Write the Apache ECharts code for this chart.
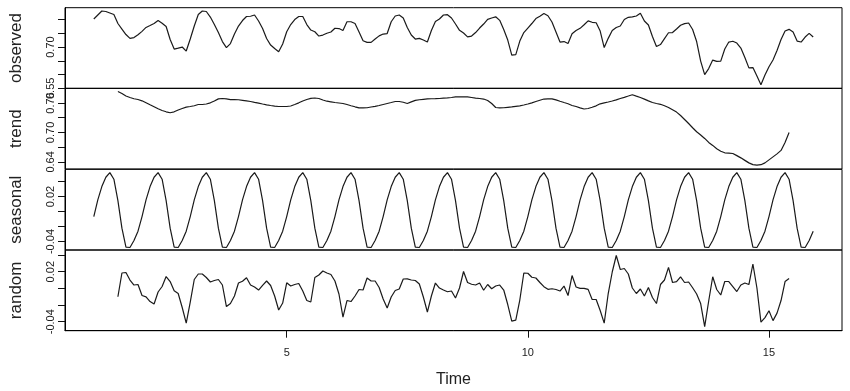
<!DOCTYPE html>
<html>
<head>
<meta charset="utf-8">
<script src="https://cdn.jsdelivr.net/npm/echarts@6/dist/echarts.min.js"></script>
<style>
html,body{margin:0;padding:0;background:#fff;}
#chart{width:850px;height:391px;}
</style>
</head>
<body>
<div id="chart"></div>
<script>
// Time series: monthly (frequency 12), starting at time 1
const startTime = 1;
const frequency = 12;
const trendOffset = 6; // trend/random start 6 months in

const observed = [
  0.8019, 0.8164, 0.8310, 0.8292, 0.8237, 0.8182, 0.7855, 0.7655, 0.7455, 0.7316, 0.7345, 0.7447,
  0.7571, 0.7713, 0.7782, 0.7855, 0.7964, 0.7866, 0.7746, 0.7273, 0.6927, 0.6963, 0.7000, 0.6854,
  0.7291, 0.7764, 0.8182, 0.8310, 0.8292, 0.8091, 0.7818, 0.7527, 0.7200, 0.6981, 0.7127, 0.7473,
  0.7764, 0.7964, 0.8110, 0.8120, 0.8164, 0.7946, 0.7673, 0.7309, 0.7072, 0.6945, 0.6829, 0.7109,
  0.7556, 0.7818, 0.8000, 0.8110, 0.8110, 0.7818, 0.7618, 0.7556, 0.7400, 0.7436, 0.7502, 0.7546,
  0.7684, 0.7673, 0.7600, 0.7920, 0.7920, 0.7855, 0.7546, 0.7229, 0.7171, 0.7171, 0.7291, 0.7407,
  0.7473, 0.7491, 0.7920, 0.8128, 0.8164, 0.8055, 0.7709, 0.7436, 0.7291, 0.7316, 0.7254, 0.7182,
  0.7600, 0.7928, 0.8019, 0.8164, 0.8175, 0.8055, 0.7837, 0.7607, 0.7509, 0.7371, 0.7400, 0.7527,
  0.7691, 0.7837, 0.8008, 0.8055, 0.8099, 0.7971, 0.7637, 0.7254, 0.6709, 0.6727, 0.7218, 0.7527,
  0.7691, 0.7855, 0.8037, 0.8120, 0.8219, 0.8139, 0.7909, 0.7546, 0.7182, 0.7200, 0.7127, 0.7484,
  0.7600, 0.7680, 0.7811, 0.7953, 0.7899, 0.7884, 0.7582, 0.6981, 0.7316, 0.7600, 0.7709, 0.7764,
  0.8000, 0.8080, 0.8099, 0.8128, 0.8226, 0.7946, 0.7800, 0.7382, 0.7018, 0.7091, 0.7309, 0.7520,
  0.7527, 0.7655, 0.7793, 0.7851, 0.7873, 0.7637, 0.7200, 0.6490, 0.5999, 0.6217, 0.6527, 0.6479,
  0.6490, 0.6927, 0.7182, 0.7211, 0.7145, 0.6963, 0.6618, 0.6243, 0.6254, 0.5944, 0.5630, 0.5981,
  0.6283, 0.6527, 0.6872, 0.7273, 0.7582, 0.7644, 0.7546, 0.7218, 0.7182, 0.7364, 0.7498, 0.7364
];

const trend = [
  0.7834, 0.7793, 0.7742, 0.7712, 0.7687, 0.7671, 0.7645, 0.7604, 0.7563, 0.7523, 0.7482, 0.7447,
  0.7421, 0.7401, 0.7421, 0.7458, 0.7488, 0.7517, 0.7529, 0.7545, 0.7570, 0.7570, 0.7580, 0.7604,
  0.7641, 0.7685, 0.7692, 0.7683, 0.7671, 0.7671, 0.7667, 0.7655, 0.7643, 0.7631, 0.7614, 0.7598,
  0.7580, 0.7563, 0.7549, 0.7537, 0.7529, 0.7529, 0.7529, 0.7539, 0.7570, 0.7604, 0.7641, 0.7671,
  0.7696, 0.7702, 0.7692, 0.7661, 0.7637, 0.7624, 0.7610, 0.7600, 0.7590, 0.7570, 0.7545, 0.7523,
  0.7502, 0.7502, 0.7504, 0.7519, 0.7533, 0.7549, 0.7570, 0.7590, 0.7610, 0.7631, 0.7631, 0.7616,
  0.7590, 0.7624, 0.7655, 0.7667, 0.7675, 0.7683, 0.7687, 0.7689, 0.7692, 0.7698, 0.7704, 0.7712,
  0.7726, 0.7726, 0.7726, 0.7724, 0.7712, 0.7700, 0.7692, 0.7681, 0.7651, 0.7590, 0.7509, 0.7502,
  0.7504, 0.7513, 0.7521, 0.7533, 0.7543, 0.7559, 0.7580, 0.7604, 0.7631, 0.7657, 0.7681, 0.7685,
  0.7685, 0.7665, 0.7637, 0.7610, 0.7584, 0.7549, 0.7529, 0.7502, 0.7478, 0.7488, 0.7513, 0.7543,
  0.7584, 0.7602, 0.7620, 0.7641, 0.7663, 0.7692, 0.7716, 0.7742, 0.7769, 0.7740, 0.7712, 0.7679,
  0.7643, 0.7610, 0.7590, 0.7574, 0.7543, 0.7509, 0.7462, 0.7415, 0.7346, 0.7265, 0.7183, 0.7096,
  0.7014, 0.6949, 0.6878, 0.6797, 0.6736, 0.6669, 0.6618, 0.6585, 0.6579, 0.6571, 0.6528, 0.6482,
  0.6431, 0.6380, 0.6345, 0.6335, 0.6343, 0.6380, 0.6441, 0.6502, 0.6563, 0.6634, 0.6797, 0.7000
];

const seasonal = [
  -0.0067, 0.0156, 0.0333, 0.0458, 0.0520, 0.0432, 0.0147, -0.0222, -0.0475, -0.0480, -0.0387, -0.0262,
  -0.0067, 0.0156, 0.0333, 0.0458, 0.0520, 0.0432, 0.0147, -0.0222, -0.0475, -0.0480, -0.0387, -0.0262,
  -0.0067, 0.0156, 0.0333, 0.0458, 0.0520, 0.0432, 0.0147, -0.0222, -0.0475, -0.0480, -0.0387, -0.0262,
  -0.0067, 0.0156, 0.0333, 0.0458, 0.0520, 0.0432, 0.0147, -0.0222, -0.0475, -0.0480, -0.0387, -0.0262,
  -0.0067, 0.0156, 0.0333, 0.0458, 0.0520, 0.0432, 0.0147, -0.0222, -0.0475, -0.0480, -0.0387, -0.0262,
  -0.0067, 0.0156, 0.0333, 0.0458, 0.0520, 0.0432, 0.0147, -0.0222, -0.0475, -0.0480, -0.0387, -0.0262,
  -0.0067, 0.0156, 0.0333, 0.0458, 0.0520, 0.0432, 0.0147, -0.0222, -0.0475, -0.0480, -0.0387, -0.0262,
  -0.0067, 0.0156, 0.0333, 0.0458, 0.0520, 0.0432, 0.0147, -0.0222, -0.0475, -0.0480, -0.0387, -0.0262,
  -0.0067, 0.0156, 0.0333, 0.0458, 0.0520, 0.0432, 0.0147, -0.0222, -0.0475, -0.0480, -0.0387, -0.0262,
  -0.0067, 0.0156, 0.0333, 0.0458, 0.0520, 0.0432, 0.0147, -0.0222, -0.0475, -0.0480, -0.0387, -0.0262,
  -0.0067, 0.0156, 0.0333, 0.0458, 0.0520, 0.0432, 0.0147, -0.0222, -0.0475, -0.0480, -0.0387, -0.0262,
  -0.0067, 0.0156, 0.0333, 0.0458, 0.0520, 0.0432, 0.0147, -0.0222, -0.0475, -0.0480, -0.0387, -0.0262,
  -0.0067, 0.0156, 0.0333, 0.0458, 0.0520, 0.0432, 0.0147, -0.0222, -0.0475, -0.0480, -0.0387, -0.0262,
  -0.0067, 0.0156, 0.0333, 0.0458, 0.0520, 0.0432, 0.0147, -0.0222, -0.0475, -0.0480, -0.0387, -0.0262,
  -0.0067, 0.0156, 0.0333, 0.0458, 0.0520, 0.0432, 0.0147, -0.0222, -0.0475, -0.0480, -0.0387, -0.0262
];

const random = [
  -0.0101, 0.0184, 0.0190, 0.0100, 0.0040, 0.0046, -0.0086, -0.0102, -0.0158, -0.0188, -0.0044, 0.0022,
  0.0142, 0.0082, -0.0030, -0.0062, -0.0230, -0.0417, -0.0164, 0.0106, 0.0172, 0.0172, 0.0130, 0.0076,
  0.0094, 0.0106, 0.0040, -0.0218, -0.0182, -0.0092, 0.0064, 0.0085, 0.0128, 0.0040, 0.0016, -0.0020,
  0.0036, 0.0088, 0.0034, -0.0092, -0.0260, -0.0176, 0.0067, 0.0028, 0.0046, 0.0058, -0.0032, -0.0146,
  -0.0164, 0.0130, 0.0160, 0.0208, 0.0184, 0.0166, 0.0088, -0.0068, -0.0345, -0.0146, -0.0158, -0.0092,
  -0.0014, -0.0020, 0.0124, 0.0088, 0.0088, 0.0010, -0.0128, -0.0236, -0.0104, -0.0026, -0.0008, 0.0112,
  0.0114, 0.0100, 0.0094, 0.0052, -0.0104, -0.0284, -0.0092, 0.0064, 0.0004, -0.0020, -0.0041, -0.0032,
  -0.0116, 0.0004, 0.0202, 0.0070, 0.0049, 0.0040, 0.0064, -0.0023, 0.0046, -0.0005, 0.0028, 0.0040,
  -0.0020, -0.0194, -0.0393, -0.0381, -0.0140, 0.0184, 0.0181, 0.0133, 0.0124, 0.0070, 0.0020, -0.0012,
  -0.0005, -0.0014, -0.0032, 0.0028, -0.0086, 0.0154, 0.0016, 0.0000, 0.0000, -0.0012, -0.0134, -0.0134,
  -0.0266, -0.0417, -0.0062, 0.0196, 0.0394, 0.0226, 0.0238, 0.0172, 0.0004, -0.0062, -0.0008, -0.0092,
  0.0010, -0.0110, -0.0182, 0.0046, 0.0100, 0.0252, 0.0070, 0.0080, 0.0138, 0.0070, 0.0076, 0.0007,
  -0.0068, -0.0182, -0.0458, -0.0152, 0.0139, -0.0014, -0.0080, 0.0082, 0.0082, 0.0022, -0.0038, 0.0040,
  0.0064, 0.0046, 0.0292, 0.0004, -0.0405, -0.0351, -0.0269, -0.0387, -0.0297, -0.0146, 0.0082, 0.0118
];

// Axis ticks and labels
const panelNames = ['observed', 'trend', 'seasonal', 'random'];
const xTicks = [5, 10, 15];
const yTicks = [
  [0.55, 0.60, 0.65, 0.70, 0.75, 0.80],
  [0.64, 0.67, 0.70, 0.73, 0.76],
  [-0.04, -0.02, 0.00, 0.02, 0.04],
  [-0.04, -0.02, 0.00, 0.02, 0.04]
];
const yLabels = [
  [0.55, 0.70],
  [0.64, 0.70, 0.76],
  [-0.04, 0.02],
  [-0.04, 0.02]
];

// ---- layout / style ----
const yRanges = [[0.5497, 0.8430], [0.6255, 0.7900], [-0.0513, 0.0564], [-0.0508, 0.0460]];
const xRange = [0.403, 16.514];
const panelTops = [7.7, 88.3, 169.3, 250];
const panelHeight = 80.7;
const ink = '#111';
const font = 'Liberation Sans, Arial, sans-serif';

function toPairs(arr, offset) {
  return arr.map((v, i) => [startTime + (i + offset) / frequency, v]);
}
const seriesData = [
  toPairs(observed, 0),
  toPairs(trend, trendOffset),
  toPairs(seasonal, 0),
  toPairs(random, trendOffset)
];

const grids = [], xAxes = [], yAxes = [], series = [];
for (let p = 0; p < 4; p++) {
  grids.push({
    left: 59, right: 8, top: panelTops[p], height: panelHeight,
    show: true, borderColor: '#000', borderWidth: 1, backgroundColor: 'transparent'
  });
  const isBottom = p === 3;
  xAxes.push({
    type: 'value', gridIndex: p, min: xRange[0], max: xRange[1],
    show: isBottom,
    splitLine: { show: false },
    axisLine: { show: isBottom, onZero: false, lineStyle: { color: '#000', width: 1 } },
    axisTick: { show: isBottom, length: 7, customValues: xTicks, lineStyle: { color: ink } },
    axisLabel: {
      show: isBottom, customValues: xTicks, margin: 17,
      fontFamily: font, fontSize: 11, color: '#222',
      formatter: v => String(Math.round(v))
    },
    name: isBottom ? 'Time' : '',
    nameLocation: 'middle', nameGap: 41,
    nameTextStyle: { fontFamily: font, fontSize: 16, color: '#222', verticalAlign: 'top' }
  });
  yAxes.push({
    type: 'value', gridIndex: p, min: yRanges[p][0], max: yRanges[p][1],
    splitLine: { show: false },
    axisLine: { show: true, onZero: false, lineStyle: { color: '#000', width: 1 } },
    axisTick: { show: true, length: 7, customValues: yTicks[p], lineStyle: { color: ink } },
    axisLabel: {
      customValues: yLabels[p], rotate: 90, margin: 9,
      fontFamily: font, fontSize: 11, color: '#222',
      formatter: v => v.toFixed(2)
    },
    name: panelNames[p], nameLocation: 'middle', nameRotate: 90, nameGap: 40,
    nameTextStyle: { fontFamily: font, fontSize: 17, color: '#222' }
  });
  series.push({
    type: 'line', xAxisIndex: p, yAxisIndex: p,
    data: seriesData[p], showSymbol: false, symbol: 'none',
    lineStyle: { color: '#1a1a1a', width: 1.2 },
    silent: true, animation: false
  });
}

const chart = echarts.init(document.getElementById('chart'), null, { renderer: 'canvas' });
chart.setOption({
  animation: false,
  backgroundColor: '#fff',
  grid: grids, xAxis: xAxes, yAxis: yAxes, series: series
});
</script>
</body>
</html>
